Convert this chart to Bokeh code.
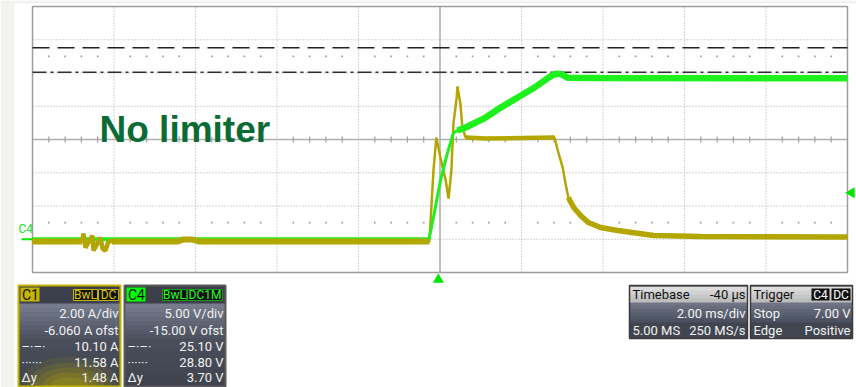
from bokeh.plotting import figure
from bokeh.models import Range1d
from bokeh.core.properties import value
from bokeh.embed import file_html
from bokeh.resources import INLINE
import math

# ---------------- data ----------------
# Channel 4 (green): voltage, time in ms relative to screen centre
c4_time_ms = [-10.0, -0.27, -0.16, 0.01, 0.18, 0.33, 0.43, 0.63, 1.12, 1.49,
              2.29, 2.64, 2.83, 2.96, 3.13, 3.94, 10.0]
c4_volts = [0.0, 0.0, 3.3, 8.8, 12.9, 16.0, 16.35, 16.8, 18.3, 19.8,
            22.7, 24.2, 24.9, 24.85, 24.3, 24.25, 24.2]

# Channel 1 (yellow): current
c1_time_ms = [-10.0, -8.78, -8.75, -8.70, -8.53, -8.50, -8.33, -8.28, -8.21, -8.13,
              -8.05, -6.45, -6.30, -6.10, -5.90, -0.26, -0.23, -0.16, -0.09, 0.01,
              0.14, 0.21, 0.28, 0.33, 0.41, 0.43, 0.50, 0.55, 0.63, 1.12,
              2.81, 2.91, 3.01, 3.08, 3.15, 3.28, 3.45, 3.64, 3.94, 4.36,
              5.24, 6.39, 10.0]
c1_amps = [-0.08, -0.08, 0.40, -0.44, 0.28, -0.62, 0.16, -0.50, -0.62, -0.02,
           -0.08, -0.08, 0.05, 0.05, -0.08, -0.08, 1.19, 4.20, 6.18, 4.98,
           3.59, 2.51, 4.20, 7.02, 8.59, 9.25, 8.23, 6.78, 6.18, 6.12,
           6.18, 5.22, 4.38, 3.41, 2.57, 1.97, 1.49, 1.07, 0.77, 0.59,
           0.29, 0.23, 0.20]

c1_scale = 2.00       # A/div
c1_offset = -6.060    # A
c4_scale = 5.00       # V/div
c4_offset = -15.00    # V
time_per_div = 2.00   # ms/div
trigger_level_v = 7.00
trigger_delay_ms = -0.04

c4_cursor_dashdot = 25.10
c4_cursor_dotted = 28.80

c1_header = ["C1", "BwL", "DC"]
c1_rows = ["2.00 A/div", "-6.060 A ofst", "10.10 A", "11.58 A", "1.48 A"]
c4_header = ["C4", "BwL", "DC1M"]
c4_rows = ["5.00 V/div", "-15.00 V ofst", "25.10 V", "28.80 V", "3.70 V"]
cursor_marks = ["\u2013\u00b7\u2013\u00b7", "\u00b7\u00b7\u00b7\u00b7\u00b7\u00b7", "\u0394y"]
timebase_texts = ["Timebase", "-40 \u00b5s", "2.00 ms/div", "5.00 MS", "250 MS/s"]
trigger_texts = ["Trigger", "C4", "DC", "Stop", "7.00 V", "Edge", "Positive"]
title_text = "No limiter"

# ---------------- geometry ----------------
W, H = 856, 387
PAGE = 0
FL, FR, FT, FB = 32.0, 847.0, 6.0, 272.0          # scope frame in page px
PXX = (FR - FL) / 10.0
PXY = (FB - FT) / 8.0
CX = (FL + FR) / 2.0
CY = (FT + FB) / 2.0
vcen = -c4_offset
icen = -c1_offset


def t_of(px):
    return (px - CX) / PXX * time_per_div


def v_of(py):
    return vcen + (CY - py) / PXY * c4_scale


def i_of(v):
    return icen + (v - vcen) / c4_scale * c1_scale


y0, y1 = v_of(PAGE + H), v_of(PAGE)
p = figure(width=W, height=H, output_backend="svg", toolbar_location=None,
           x_range=Range1d(t_of(PAGE), t_of(PAGE + W)),
           y_range=Range1d(y0, y1),
           min_border=0, outline_line_color=None,
           background_fill_color="white", border_fill_color="white")
p.axis.visible = False
p.grid.visible = False
p.extra_y_ranges = {"amps": Range1d(i_of(y0), i_of(y1)),
                    "py": Range1d(PAGE + H, PAGE)}
p.extra_x_ranges = {"px": Range1d(PAGE, PAGE + W)}

UI = "Roboto"

# light grey strips of the screenshot background
p.quad(left=[0, 0], right=[14, W], top=[0, 0], bottom=[H, 3], x_range_name="px",
       y_range_name="py", fill_color="#f2f2f0", line_color=None)

# ---------------- graticule ----------------
tl, tr = -5 * time_per_div, 5 * time_per_div
vb, vt = vcen - 4 * c4_scale, vcen + 4 * c4_scale
p.quad(left=[tl], right=[tr], bottom=[vb], top=[vt], fill_color="white", line_color=None)
gx = [k * time_per_div for k in range(-4, 5) if k != 0]
p.segment(x0=gx, x1=gx, y0=[vb] * len(gx), y1=[vt] * len(gx),
          line_color="#ababab", line_width=1, line_dash="1 2")
gy = [vcen + k * c4_scale for k in range(-3, 4) if k != 0]
p.segment(x0=[tl] * len(gy), x1=[tr] * len(gy), y0=gy, y1=gy,
          line_color="#ababab", line_width=1, line_dash="1 2")
# minor dot rows
mx = [tl + k * time_per_div / 5 for k in range(1, 50) if k % 5]
for lev in (vcen - 2.5 * c4_scale, vcen + 2.5 * c4_scale):
    p.scatter(x=mx, y=[lev] * len(mx), marker="square", size=1.6,
              fill_color="#9a9a9a", line_color=None)
# centre cross
p.segment(x0=[tl], x1=[tr], y0=[vcen], y1=[vcen], line_color="#b0b0b0", line_width=1.6)
p.segment(x0=[0], x1=[0], y0=[vb], y1=[vt], line_color="#b0b0b0", line_width=1.6)
tick = 0.09 * c4_scale
p.segment(x0=mx, x1=mx, y0=[vcen - tick] * len(mx), y1=[vcen + tick] * len(mx),
          line_color="#a0a0a0", line_width=1.2)
# frame
p.quad(left=[tl], right=[tr], bottom=[vb], top=[vt], fill_color=None,
       line_color="#9c9c9c", line_width=1.5)

# cursors
p.segment(x0=[tl], x1=[tr], y0=[c4_cursor_dotted], y1=[c4_cursor_dotted],
          line_color="#202020", line_width=1.5, line_dash="17 8")
p.segment(x0=[tl], x1=[tr], y0=[c4_cursor_dashdot], y1=[c4_cursor_dashdot],
          line_color="#303030", line_width=1.5, line_dash="14 4 3 4")

# ---------------- traces ----------------
GREEN = "#1ef01e"
YELLOW = "#b3a600"
nb = 2  # green baseline points
p.line(c4_time_ms[:nb], c4_volts[:nb], line_color=GREEN, line_width=4)
i_sp0 = c1_time_ms.index(-8.78) + 1
i_sp1 = c1_time_ms.index(-8.05)
i_rise = c1_time_ms.index(-0.26) + 1
p.line(c1_time_ms[:i_sp0], c1_amps[:i_sp0], y_range_name="amps", line_color=YELLOW, line_width=6)
p.line(c1_time_ms[i_sp1:i_rise], c1_amps[i_sp1:i_rise], y_range_name="amps",
       line_color=YELLOW, line_width=6)
p.line(c1_time_ms[i_sp0 - 1:i_sp1 + 1], c1_amps[i_sp0 - 1:i_sp1 + 1], y_range_name="amps",
       line_color=YELLOW, line_width=4.5)
p.line(c1_time_ms, c1_amps, y_range_name="amps", line_color=YELLOW, line_width=2.5)
ip = c1_time_ms.index(0.63)
ie = c1_time_ms.index(2.81) + 1
p.line(c1_time_ms[ip:ie], c1_amps[ip:ie], y_range_name="amps", line_color=YELLOW, line_width=4.5)
it = c1_time_ms.index(3.15)
p.line(c1_time_ms[it:], c1_amps[it:], y_range_name="amps", line_color=YELLOW, line_width=5.5)
p.line(c4_time_ms[nb - 1:], c4_volts[nb - 1:], line_color=GREEN, line_width=3)
ig = c4_time_ms.index(0.43)
p.line(c4_time_ms[ig:], c4_volts[ig:], line_color=GREEN, line_width=6.5)

# markers
p.scatter(x=[trigger_delay_ms], y=[279], y_range_name="py", marker="triangle",
          size=11, fill_color="#00e600", line_color=None)
p.scatter(x=[851], y=[trigger_level_v], x_range_name="px", marker="triangle",
          angle=math.pi / 2, size=11, fill_color="#00e600", line_color=None)
p.segment(x0=[21], x1=[32], y0=[0], y1=[0], x_range_name="px",
          line_color="#00e600", line_width=2)
p.text(x=[18], y=[0], text=["C4"], x_range_name="px", text_color="#22dd22",
       text_font=value(UI), text_font_size="12px", text_baseline="bottom", y_offset=-3)

# title
p.text(x=[99], y=[129], text=[title_text], x_range_name="px", y_range_name="py",
       text_color="#0b6b34", text_font=value("Liberation Sans"), text_font_style="bold",
       text_font_size="37px", text_baseline="alphabetic")


# ---------------- info boxes ----------------
def quad(l, r, t, b, fill, line=None, lw=1, alpha=1.0):
    p.quad(left=[l], right=[r], top=[t], bottom=[b], x_range_name="px", y_range_name="py",
           fill_color=fill, fill_alpha=alpha, line_color=line, line_width=lw)


def txt(x, y, s, color="#f2f2f2", align="right", size="13px"):
    p.text(x=[x], y=[y], text=[s], x_range_name="px", y_range_name="py",
           text_color=color, text_font=value(UI), text_font_size=size,
           text_align=align, text_baseline="middle")


def gradient(l, r, t, b, c_top, c_bot, steps=8):
    def hx(c):
        return [int(c[i:i + 2], 16) for i in (1, 3, 5)]
    a, z = hx(c_top), hx(c_bot)
    h = (b - t) / steps
    for k in range(steps):
        f = k / (steps - 1)
        col = "#%02x%02x%02x" % tuple(int(a[j] + (z[j] - a[j]) * f) for j in range(3))
        quad(l, r, t + k * h, t + (k + 1) * h + 0.5, col)


ROWS = [313, 330, 346, 362, 377]
HDR = 294
BOT = 386


def channel_box(l, r, accent, chip_label, border, glow):
    quad(l, r, 285, BOT, "#3d424d")
    quad(l, r, 286, 303, "#3a3f49")
    gradient(l, r, 303, 338, "#767c8c", "#4e5462")
    gradient(l, r, 338, BOT, "#4a4f5b", "#3f444e")
    if glow:
        for w, hh, a in ((100, 60, 0.10), (85, 48, 0.12), (70, 38, 0.14),
                         (55, 28, 0.16), (40, 18, 0.2)):
            p.ellipse(x=[(l + r) / 2], y=[BOT], width=w, height=hh,
                      x_range_name="px", y_range_name="py", fill_color=accent,
                      fill_alpha=a, line_color=None)
    quad(l, r, 285, BOT, None, border, 2)
    quad(l + 2, l + 21, 287, 301, accent)
    txt(l + 3.5, HDR, chip_label, color="#111111", align="left", size="14px")


# C1 box
L1, R1 = 18, 120
channel_box(L1, R1, "#c4b300", c1_header[0], "#c4b300", True)
quad(73, 97, 289, 300, "#111111", "#c4b300", 1)
quad(98, 118, 289, 300, "#111111", "#c4b300", 1)
txt(85, HDR, c1_header[1], color="#d8c800", align="center", size="12px")
txt(108, HDR, c1_header[2], color="#d8c800", align="center", size="12px")
for y, s in zip(ROWS, c1_rows):
    txt(R1 - 2, y, s)
for y, s in zip(ROWS[2:], cursor_marks):
    txt(L1 + 3, y, s, align="left")

# C4 box
L4, R4 = 124, 225
channel_box(L4, R4, "#00ff00", c4_header[0], "#5a5a5a", False)
quad(162, 186, 289, 300, "#111111", "#1a9a1a", 1)
quad(187, 222, 289, 300, "#111111", "#1a9a1a", 1)
txt(174, HDR, c4_header[1], color="#22ff22", align="center", size="12px")
txt(204.5, HDR, c4_header[2], color="#22ff22", align="center", size="12px")
for y, s in zip(ROWS, c4_rows):
    txt(R4 - 2, y, s)
for y, s in zip(ROWS[2:], cursor_marks):
    txt(L4 + 3, y, s, align="left")


# Timebase and trigger boxes
def info_box(l, r):
    quad(l, r, 285, 338, "#3f444e")
    gradient(l, r, 286, 302, "#dcdcdc", "#bdbdbd", 4)
    gradient(l, r, 302, 322, "#6f7585", "#4b5160", 6)
    quad(l, r, 322, 338, "#40454f")
    quad(l, r, 285, 338, None, "#3a3a3a", 1.5)


info_box(629, 747)
txt(632, HDR, timebase_texts[0], color="#111111", align="left")
txt(745, HDR, timebase_texts[1], color="#111111")
txt(745, 313, timebase_texts[2])
txt(632, 330, timebase_texts[3], align="left")
txt(745, 330, timebase_texts[4])

info_box(750, 852)
txt(753, HDR, trigger_texts[0], color="#111111", align="left")
quad(811, 829, 288, 300, "#111111")
quad(831, 850, 288, 300, "#111111")
txt(820, HDR, trigger_texts[1], color="#ffffff", align="center", size="12px")
txt(840.5, HDR, trigger_texts[2], color="#ffffff", align="center", size="12px")
txt(753, 313, trigger_texts[3], align="left")
txt(850, 313, trigger_texts[4])
txt(753, 330, trigger_texts[5], align="left")
txt(850, 330, trigger_texts[6])

open("out.html", "w").write(file_html(p, INLINE))
